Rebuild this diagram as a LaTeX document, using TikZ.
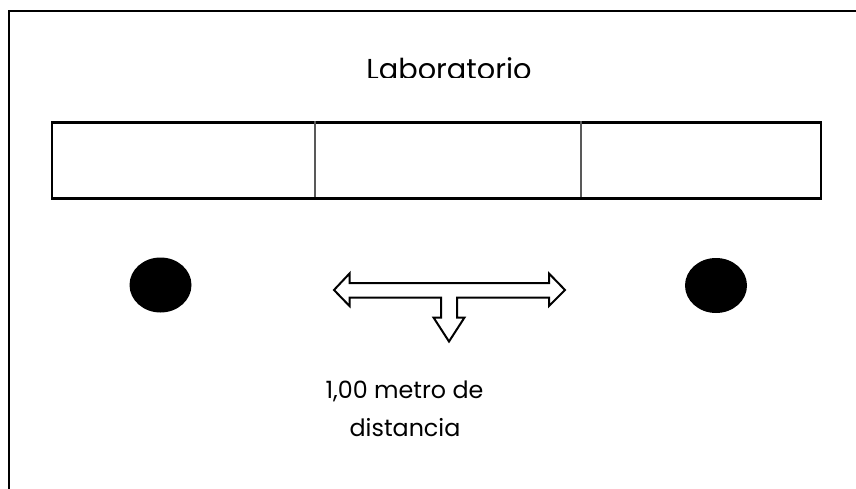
\documentclass[tikz,border=0pt]{standalone}
\usepackage{fontspec}
\setmainfont{Poppins}
\usetikzlibrary{shapes.geometric}
\begin{document}
\begin{tikzpicture}[x=1pt,y=-1pt,
  frame/.style={draw=black,line width=2.4pt},
  divider/.style={draw=black!65,line width=1.4pt},
  spot/.style={ellipse,fill=black,minimum width=62pt,minimum height=55pt,inner sep=0pt},
  arrowshape/.style={draw=black,fill=white,line width=2pt,line join=miter},
  labeltext/.style={inner sep=0pt,anchor=base,font=\fontsize{23.8}{28}\selectfont}]
\clip (0,0) rectangle (856,489);
\fill[white] (0,0) rectangle (856,489);
% outer frame (runs past the right and bottom edges)
\draw[frame] (9,11) rectangle (880,520);
% title, clipped at its bottom
\begin{scope}
\clip (300,40) rectangle (600,77.5);
\node[anchor=base,inner sep=0pt,font=\fontsize{28.8}{34}\selectfont] (title) at (449,79.5) {Laboratorio};
\end{scope}
% bench
\draw[frame] (52,122.5) rectangle (821,198.5);
\coordinate (d1t) at (315,121.5); \coordinate (d1b) at (315,197.5);
\coordinate (d2t) at (581,121.5); \coordinate (d2b) at (581,197.5);
\draw[divider] (d1t) -- (d1b);
\draw[divider] (d2t) -- (d2b);
% spots
\node[spot] (left) at (160.5,285) {};
\node[spot] (right) at (716,285.5) {};
% three-way arrow
\draw[arrowshape] (334,290) -- (349.5,273.5) -- (349.5,283) -- (549,283) -- (549,273.5)
  -- (565,290) -- (549,306) -- (549,297.5) -- (457,297.5) -- (457,317.5) -- (464.5,317.5)
  -- (449,341.5) -- (433.5,317.5) -- (441,317.5) -- (441,297.5) -- (349.5,297.5)
  -- (349.5,306) -- cycle;
% label
\node[labeltext] (label1) at (404.5,398) {1,00 metro de};
\node[labeltext] (label2) at (405,436.5) {distancia};
\end{tikzpicture}
\end{document}
